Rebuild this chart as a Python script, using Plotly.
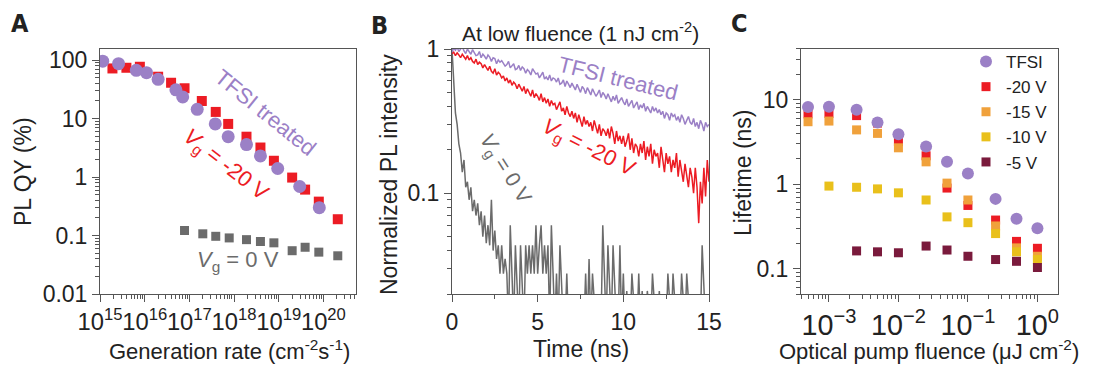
import plotly.graph_objects as go

W, H = 1093, 365
FONT = "Liberation Sans, Arial, Helvetica, sans-serif"
BOLD_FONT = "Liberation Sans Narrow, DejaVu Sans Condensed, Arial Narrow, sans-serif"

PURPLE = "#9b80c6"
RED = "#ec1c24"
GRAY = "#6b6b6b"
ORANGE = "#f0a13b"
YELLOW = "#e9c01b"
MAROON = "#7a1a3c"
AXIS = "#555555"
TEXT = "#222222"

# ---------------- Panel A data ----------------
A_TFSI_GEN = [1.15e15, 2.6e15, 6.5e15, 1.1e16, 2.0e16, 5.0e16, 7.1e16, 1.5e17, 3.8e17,
              7.4e17, 1.9e18, 3.9e18, 9.5e18, 2.95e19, 8.1e19]
A_TFSI_QY = [96, 87, 67, 61, 47, 31, 23.5, 14.4, 8.1, 4.9, 3.6, 2.3, 1.4, 0.69, 0.30]

A_M20_GEN = [1.9e15, 3.9e15, 7.8e15, 2.0e16, 3.9e16, 7.8e16, 1.9e17, 3.9e17, 7.4e17,
             1.9e18, 3.9e18, 7.8e18, 2.0e19, 3.9e19, 7.9e19, 2.1e20]
A_M20_QY = [72, 74, 77, 52, 41, 33, 20, 13, 8.1, 4.9, 3.2, 1.9, 0.98, 0.61, 0.38, 0.19]

A_0V_GEN = [7.8e16, 2.0e17, 3.9e17, 7.8e17, 1.9e18, 3.9e18, 7.8e18, 2.0e19, 3.9e19,
            7.9e19, 2.1e20]
A_0V_QY = [0.122, 0.107, 0.097, 0.091, 0.085, 0.079, 0.075, 0.055, 0.063, 0.052, 0.045]

# ---------------- Panel B data (time step 0.1 ns, 0 to 15 ns) ----------------
B_TIME_STEP_NS = 0.1
B_TFSI = [
    0.95, 1.01, 0.98, 1.03, 0.96, 0.99, 1.04, 0.97, 0.93, 1.00,
    0.96, 0.92, 0.99, 0.95, 0.90, 0.91, 0.96, 0.87, 0.92, 0.89,
    0.85, 0.91, 0.88, 0.82, 0.87, 0.86, 0.79, 0.84, 0.81, 0.83,
    0.80, 0.76, 0.78, 0.82, 0.74, 0.77, 0.79, 0.72, 0.73, 0.77,
    0.71, 0.75, 0.73, 0.68, 0.72, 0.70, 0.66, 0.73, 0.69, 0.67,
    0.68, 0.63, 0.66, 0.69, 0.62, 0.64, 0.61, 0.66, 0.60, 0.63,
    0.62, 0.59, 0.63, 0.57, 0.58, 0.61, 0.55, 0.60, 0.57, 0.54,
    0.58, 0.55, 0.52, 0.57, 0.54, 0.50, 0.55, 0.53, 0.49, 0.54,
    0.51, 0.48, 0.53, 0.50, 0.47, 0.49, 0.52, 0.46, 0.50, 0.48,
    0.45, 0.49, 0.46, 0.43, 0.47, 0.44, 0.48, 0.42, 0.44, 0.46,
    0.43, 0.41, 0.45, 0.40, 0.42, 0.44, 0.39, 0.41, 0.43, 0.38,
    0.41, 0.39, 0.42, 0.37, 0.40, 0.38, 0.36, 0.40, 0.37, 0.39,
    0.36, 0.38, 0.35, 0.37, 0.33, 0.36, 0.35, 0.32, 0.36, 0.34,
    0.35, 0.32, 0.34, 0.31, 0.35, 0.33, 0.30, 0.32, 0.34, 0.31,
    0.30, 0.33, 0.29, 0.31, 0.28, 0.32, 0.30, 0.27, 0.31, 0.29,
    0.30,
]
B_M20 = [
    0.93, 0.95, 0.90, 0.94, 0.91, 0.87, 0.92, 0.89, 0.85, 0.90,
    0.84, 0.87, 0.82, 0.80, 0.85, 0.78, 0.81, 0.79, 0.74, 0.78,
    0.75, 0.71, 0.76, 0.70, 0.68, 0.73, 0.66, 0.69, 0.67, 0.63,
    0.65, 0.60, 0.63, 0.58, 0.61, 0.56, 0.59, 0.57, 0.53, 0.57,
    0.54, 0.51, 0.55, 0.49, 0.53, 0.50, 0.47, 0.52, 0.46, 0.49,
    0.47, 0.44, 0.49, 0.43, 0.46, 0.42, 0.45, 0.40, 0.44, 0.41,
    0.42, 0.38, 0.41, 0.43, 0.37, 0.39, 0.35, 0.40, 0.36, 0.34,
    0.37, 0.33, 0.36, 0.31, 0.35, 0.32, 0.29, 0.34, 0.30, 0.32,
    0.29, 0.31, 0.27, 0.32, 0.28, 0.26, 0.30, 0.25, 0.28, 0.27,
    0.25, 0.28, 0.24, 0.29, 0.26, 0.22, 0.27, 0.23, 0.25, 0.22,
    0.25, 0.21, 0.23, 0.26, 0.20, 0.24, 0.19, 0.22, 0.21, 0.18,
    0.22, 0.19, 0.23, 0.17, 0.21, 0.18, 0.22, 0.16, 0.20, 0.18,
    0.19, 0.15, 0.21, 0.17, 0.14, 0.19, 0.16, 0.18, 0.14, 0.17,
    0.15, 0.19, 0.13, 0.17, 0.14, 0.12, 0.16, 0.13, 0.11, 0.15,
    0.13, 0.10, 0.15, 0.11, 0.062, 0.12, 0.085, 0.15, 0.095, 0.17,
    0.12,
]
B_0V = [
    1.0, 0.62, 0.36, 0.30, 0.22, 0.19, 0.14, 0.17, 0.11, 0.12,
    0.09, 0.11, 0.075, 0.09, 0.07, 0.085, 0.06, 0.075, 0.05, 0.07,
    0.045, 0.06, 0.0435, 0.09, 0.04, 0.055, 0.035, 0.0435, 0.0277, 0.0435,
    0.0277, 0.035, 0.0277, 0.012, 0.06, 0.0277, 0.012, 0.0435, 0.0277, 0.012,
    0.0435, 0.0277, 0.012, 0.0435, 0.0277, 0.0435, 0.0277, 0.0435, 0.0277, 0.06,
    0.0277, 0.0435, 0.06, 0.0277, 0.0435, 0.0277, 0.0435, 0.012, 0.06, 0.0277,
    0.012, 0.0277, 0.012, 0.0435, 0.012, 0.012, 0.012, 0.0277, 0.012, 0.012,
    0.012, 0.012, 0.012, 0.012, 0.012, 0.012, 0.012, 0.012, 0.0277, 0.012,
    0.035, 0.012, 0.0277, 0.012, 0.012, 0.012, 0.012, 0.012, 0.06, 0.012,
    0.012, 0.0435, 0.012, 0.012, 0.0435, 0.012, 0.012, 0.012, 0.0435, 0.012,
    0.0277, 0.012, 0.021, 0.012, 0.012, 0.0277, 0.012, 0.012, 0.012, 0.0277,
    0.012, 0.021, 0.012, 0.012, 0.021, 0.012, 0.012, 0.0277, 0.012, 0.012,
    0.012, 0.021, 0.012, 0.012, 0.012, 0.012, 0.0277, 0.012, 0.012, 0.0277,
    0.012, 0.012, 0.012, 0.012, 0.0277, 0.012, 0.012, 0.0277, 0.012, 0.012,
    0.012, 0.012, 0.012, 0.012, 0.012, 0.012, 0.0435, 0.012, 0.012, 0.012,
    0.012,
]
B_TIME = [round(i * B_TIME_STEP_NS, 2) for i in range(len(B_TFSI))]

# ---------------- Panel C data ----------------
C_FLUENCE = [5e-4, 1e-3, 2.5e-3, 5e-3, 1e-2, 2.5e-2, 5e-2, 0.1, 0.25, 0.5, 1.0]
C_TFSI = [8.2, 8.3, 7.6, 5.4, 3.9, 2.8, 1.84, 1.34, 0.67, 0.39, 0.30]
C_M20 = [6.8, 6.9, 6.5, 5.3, 3.2, 2.17, 0.90, 0.56, 0.376, 0.21, 0.174]
C_M15 = [5.5, 5.6, 4.4, 4.0, 2.7, 1.84, 1.03, 0.65, 0.32, 0.176, 0.14]
C_FLUENCE_10 = [1e-3, 2.5e-3, 5e-3, 1e-2, 2.5e-2, 5e-2, 0.1, 0.25, 0.5, 1.0]
C_M10 = [0.95, 0.92, 0.88, 0.79, 0.65, 0.41, 0.35, 0.26, 0.158, 0.128]
C_FLUENCE_5 = [2.5e-3, 5e-3, 1e-2, 2.5e-2, 5e-2, 0.1, 0.25, 0.5, 1.0]
C_M5 = [0.162, 0.158, 0.154, 0.185, 0.166, 0.14, 0.128, 0.122, 0.103]


def px(x):
    return x / W


def py(y):
    return 1 - y / H


fig = go.Figure()

# Panel A
fig.add_trace(go.Scatter(x=A_0V_GEN, y=A_0V_QY, mode="markers", xaxis="x", yaxis="y",
                         marker=dict(symbol="square", size=9, color=GRAY), showlegend=False))
fig.add_trace(go.Scatter(x=A_M20_GEN, y=A_M20_QY, mode="markers", xaxis="x", yaxis="y",
                         marker=dict(symbol="square", size=10, color=RED), showlegend=False))
fig.add_trace(go.Scatter(x=A_TFSI_GEN, y=A_TFSI_QY, mode="markers", xaxis="x", yaxis="y",
                         marker=dict(symbol="circle", size=13, color=PURPLE), showlegend=False))

# Panel B
fig.add_trace(go.Scatter(x=B_TIME, y=B_0V, mode="lines", xaxis="x2", yaxis="y2",
                         line=dict(color=GRAY, width=1.5), showlegend=False))
fig.add_trace(go.Scatter(x=B_TIME, y=B_M20, mode="lines", xaxis="x2", yaxis="y2",
                         line=dict(color=RED, width=1.5), showlegend=False))
fig.add_trace(go.Scatter(x=B_TIME, y=B_TFSI, mode="lines", xaxis="x2", yaxis="y2",
                         line=dict(color=PURPLE, width=1.5), showlegend=False))

# Panel C
fig.add_trace(go.Scatter(x=C_FLUENCE, y=C_M20, mode="markers", xaxis="x3", yaxis="y3", name="-20 V",
                         legendrank=2, marker=dict(symbol="square", size=9, color=RED)))
fig.add_trace(go.Scatter(x=C_FLUENCE, y=C_M15, mode="markers", xaxis="x3", yaxis="y3", name="-15 V",
                         legendrank=3, marker=dict(symbol="square", size=9, color=ORANGE)))
fig.add_trace(go.Scatter(x=C_FLUENCE_10, y=C_M10, mode="markers", xaxis="x3", yaxis="y3", name="-10 V",
                         legendrank=4, marker=dict(symbol="square", size=9, color=YELLOW)))
fig.add_trace(go.Scatter(x=C_FLUENCE_5, y=C_M5, mode="markers", xaxis="x3", yaxis="y3", name="-5 V",
                         legendrank=5, marker=dict(symbol="square", size=9, color=MAROON)))
fig.add_trace(go.Scatter(x=C_FLUENCE, y=C_TFSI, mode="markers", xaxis="x3", yaxis="y3", name="TFSI",
                         legendrank=1, marker=dict(symbol="circle", size=12, color=PURPLE)))

YDOM = [py(294), py(49)]


def axis_style(**kw):
    d = dict(showline=True, linecolor=AXIS, linewidth=1, mirror=True, ticks="outside",
             ticklen=7, tickcolor=AXIS, tickwidth=1, showgrid=False, zeroline=False,
             automargin=False, tickangle=0,
             tickfont=dict(family=FONT, size=23, color=TEXT),
             minor=dict(ticks="outside", ticklen=4, tickcolor=AXIS, tickwidth=1, showgrid=False))
    d.update(kw)
    return d


fig.update_layout(
    width=W, height=H, margin=dict(l=0, r=0, t=0, b=0, autoexpand=False),
    paper_bgcolor="white", plot_bgcolor="white",
    font=dict(family=FONT, color=TEXT),
    xaxis=axis_style(type="log", domain=[px(100), px(356)], range=[15, 20.73], dtick=1,
                     exponentformat="power", anchor="y",
                     tickfont=dict(family=FONT, size=19, color=TEXT)),
    yaxis=axis_style(type="log", domain=YDOM, range=[-2, 2.19], dtick=1, anchor="x"),
    xaxis2=axis_style(type="linear", domain=[px(452), px(709)], range=[0, 15], dtick=5,
                      anchor="y2", minor=dict(ticks="outside", ticklen=4, tickcolor=AXIS,
                                              dtick=2.5, showgrid=False)),
    yaxis2=axis_style(type="log", domain=YDOM, range=[-1.699, 0], dtick=1, anchor="x2"),
    xaxis3=axis_style(type="log", domain=[px(801), px(1058)], range=[-3.402, 0.296], dtick=1,
                      exponentformat="power", anchor="y3",
                      labelalias={"1": "10<sup>0</sup>"}),
    yaxis3=axis_style(type="log", domain=YDOM, range=[-1.301, 1.602], dtick=1, anchor="x3"),
    legend=dict(x=px(966), y=py(44), xanchor="left", yanchor="top",
                font=dict(family=FONT, size=17, color=TEXT), bgcolor="rgba(0,0,0,0)",
                tracegroupgap=0),
)

ann = []


def text(x, y, s, size=23, color=TEXT, angle=0, family=FONT):
    ann.append(dict(x=px(x), y=py(y), xref="paper", yref="paper", text=s, showarrow=False,
                    xanchor="center", yanchor="middle", textangle=angle,
                    font=dict(family=family, size=size, color=color)))


# Panel letters
text(19.5, 24, "<b>A</b>", size=25, family=BOLD_FONT)
text(379, 25.5, "<b>B</b>", size=25, family=BOLD_FONT)
text(739, 23.5, "<b>C</b>", size=25, family=BOLD_FONT)

# Axis titles
text(229, 350, "Generation rate (cm<sup>-2</sup>s<sup>-1</sup>)", size=22)
text(23, 172, "PL QY (%)", angle=-90)
text(581, 349, "Time (ns)")
text(389, 175, "Normalized PL intensity", angle=-90)
text(929, 350, "Optical pump fluence (\u03bcJ cm<sup>-2</sup>)", size=22)
text(743, 173, "Lifetime (ns)", angle=-90)

# Panel B title
text(580, 32, "At low fluence (1 nJ cm<sup>-2</sup>)", size=21)

# Panel A labels
text(265, 113, "TFSI treated", size=22, color=PURPLE, angle=39)
text(225, 165, "<i>V</i><sub>g</sub> = -20 V", size=22, color=RED, angle=38)
text(238, 261, "<i>V</i><sub>g</sub> = 0 V", size=22, color=GRAY)

# Panel B labels
text(618, 78, "TFSI treated", size=22, color=PURPLE, angle=14)
text(588, 148, "<i>V</i><sub>g</sub> = -20 V", size=22, color=RED, angle=27)
text(505, 169, "<i>V</i><sub>g</sub> = 0 V", size=21, color=GRAY, angle=58)

fig.update_layout(annotations=ann)

# remove the browser's default 8px page margin so figure pixels map to window pixels
fig.write_html("out.html", config={"displayModeBar": False},
               post_script="document.body.style.margin='0';document.body.style.overflow='hidden';")
